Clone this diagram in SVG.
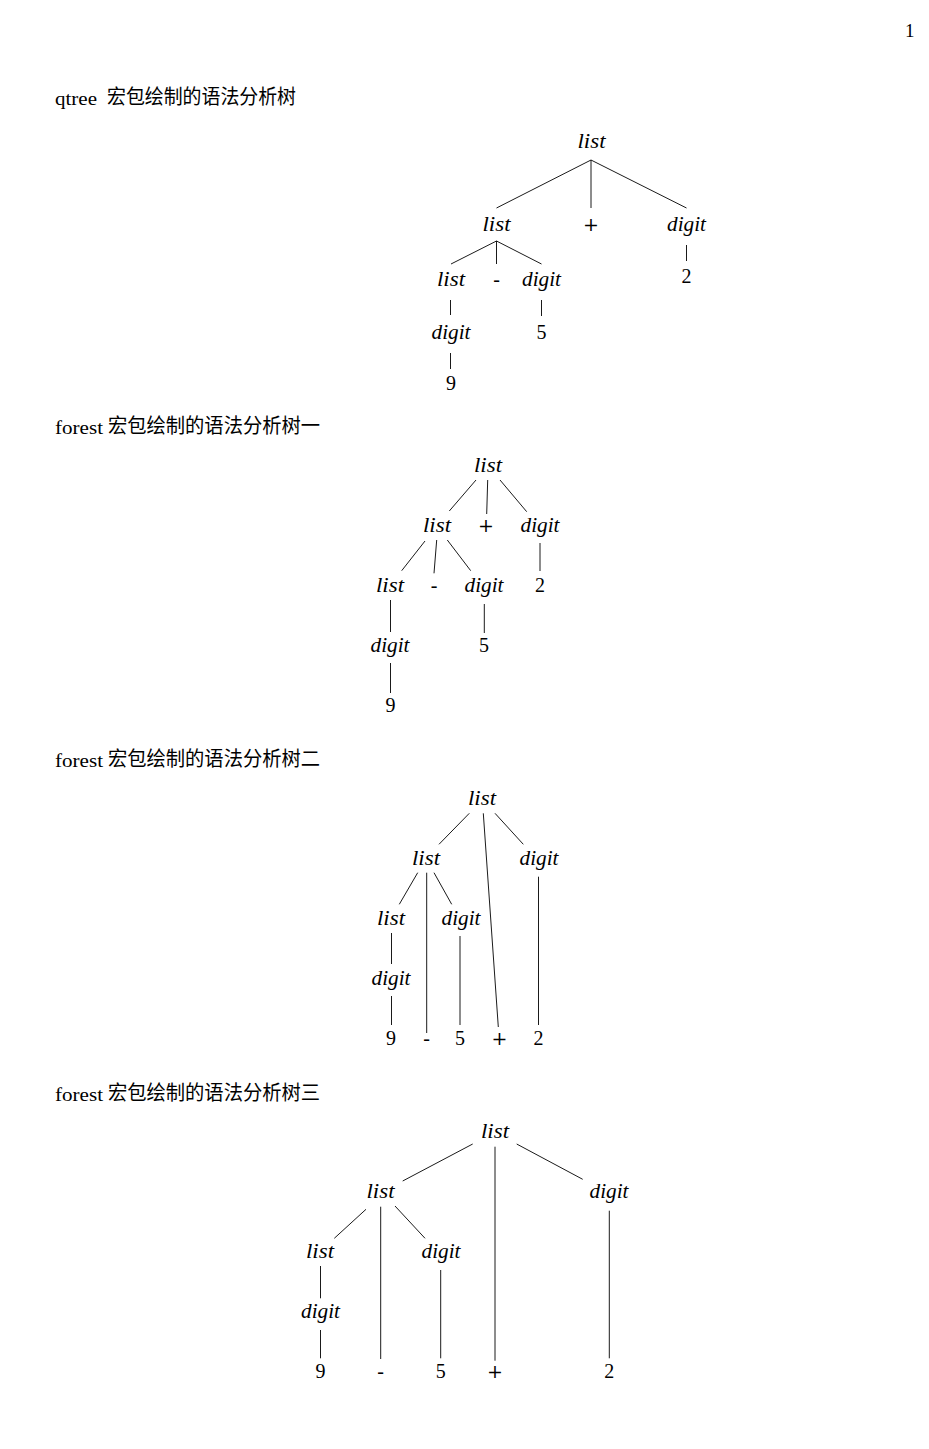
<svg xmlns="http://www.w3.org/2000/svg" width="929" height="1449" viewBox="0 0 929 1449">
<style>
.bg{fill:#fff}
.h{font-family:"Liberation Serif",serif;font-size:19px;fill:#000}
.c{font-family:"Noto Sans CJK SC",sans-serif;font-size:20px;fill:#000}
.m{font-family:"Liberation Serif",serif;font-style:italic;font-size:20px;fill:#000;text-anchor:middle}
.r{font-family:"Liberation Serif",serif;font-size:20px;fill:#000;text-anchor:middle}
.p{font-family:"DejaVu Serif",serif;font-size:19px;fill:#000;text-anchor:middle}
.e line{stroke:#000;stroke-width:0.9;fill:none}
</style>
<rect class="bg" x="0" y="0" width="929" height="1449"/>
<text class="h" x="905" y="37">1</text>

<g id="headings">
<text class="h" x="55" y="105" textLength="42" lengthAdjust="spacingAndGlyphs">qtree</text>
<text class="c" x="107" y="104" textLength="189" lengthAdjust="spacingAndGlyphs">宏包绘制的语法分析树</text>
<text class="h" x="55" y="434" textLength="48" lengthAdjust="spacingAndGlyphs">forest</text>
<text class="c" x="108" y="433" textLength="212" lengthAdjust="spacingAndGlyphs">宏包绘制的语法分析树一</text>
<text class="h" x="55" y="767" textLength="48" lengthAdjust="spacingAndGlyphs">forest</text>
<text class="c" x="108" y="766" textLength="212" lengthAdjust="spacingAndGlyphs">宏包绘制的语法分析树二</text>
<text class="h" x="55" y="1101" textLength="48" lengthAdjust="spacingAndGlyphs">forest</text>
<text class="c" x="108" y="1100" textLength="212" lengthAdjust="spacingAndGlyphs">宏包绘制的语法分析树三</text>
</g>

<!-- Tree 1 (qtree) -->
<g id="t1-connectors" class="e">
<line x1="591" y1="160" x2="496.5" y2="208"/>
<line x1="591" y1="160" x2="591" y2="208"/>
<line x1="591" y1="160" x2="686.5" y2="208"/>
<line x1="496.5" y1="241" x2="451" y2="264"/>
<line x1="496.5" y1="241" x2="496.5" y2="264"/>
<line x1="496.5" y1="241" x2="541.5" y2="264"/>
<line x1="686.5" y1="245" x2="686.5" y2="261"/>
<line x1="450.5" y1="300" x2="450.5" y2="315"/>
<line x1="541.5" y1="300" x2="541.5" y2="316"/>
<line x1="450.5" y1="353" x2="450.5" y2="369"/>
</g>
<g id="t1-n1"><text class="m" x="591.5" y="148" textLength="28" lengthAdjust="spacingAndGlyphs">list</text></g>
<g id="t1-n2"><text class="m" x="496.5" y="231" textLength="28" lengthAdjust="spacingAndGlyphs">list</text></g>
<g id="t1-n3"><text class="p" x="591" y="231">+</text></g>
<g id="t1-n4"><text class="m" x="686.5" y="231" textLength="39" lengthAdjust="spacingAndGlyphs">digit</text></g>
<g id="t1-n5"><text class="m" x="451" y="286" textLength="28" lengthAdjust="spacingAndGlyphs">list</text></g>
<g id="t1-n6"><text class="r" x="496.5" y="286">-</text></g>
<g id="t1-n7"><text class="m" x="541.5" y="286" textLength="39" lengthAdjust="spacingAndGlyphs">digit</text></g>
<g id="t1-n8"><text class="r" x="686.5" y="283">2</text></g>
<g id="t1-n9"><text class="m" x="451" y="339" textLength="39" lengthAdjust="spacingAndGlyphs">digit</text></g>
<g id="t1-n10"><text class="r" x="541.5" y="339">5</text></g>
<g id="t1-n11"><text class="r" x="451" y="390">9</text></g>

<!-- Tree 2 -->
<g id="t2-connectors" class="e">
<line x1="476" y1="480" x2="449.3" y2="511"/>
<line x1="487.7" y1="480" x2="486.7" y2="514"/>
<line x1="500" y1="480" x2="526.7" y2="511.7"/>
<line x1="425" y1="541" x2="401.7" y2="570.7"/>
<line x1="436.7" y1="540" x2="434" y2="573.3"/>
<line x1="447.3" y1="540" x2="470.7" y2="570.7"/>
<line x1="540" y1="543" x2="540" y2="571"/>
<line x1="390.5" y1="600" x2="390.5" y2="632"/>
<line x1="484.3" y1="604" x2="484.3" y2="633"/>
<line x1="390.5" y1="663" x2="390.5" y2="693"/>
</g>
<g id="t2-n1"><text class="m" x="488" y="472" textLength="28" lengthAdjust="spacingAndGlyphs">list</text></g>
<g id="t2-n2"><text class="m" x="437" y="532" textLength="28" lengthAdjust="spacingAndGlyphs">list</text></g>
<g id="t2-n3"><text class="p" x="486" y="532">+</text></g>
<g id="t2-n4"><text class="m" x="540" y="532" textLength="39" lengthAdjust="spacingAndGlyphs">digit</text></g>
<g id="t2-n5"><text class="m" x="390" y="592" textLength="28" lengthAdjust="spacingAndGlyphs">list</text></g>
<g id="t2-n6"><text class="r" x="434" y="592">-</text></g>
<g id="t2-n7"><text class="m" x="484" y="592" textLength="39" lengthAdjust="spacingAndGlyphs">digit</text></g>
<g id="t2-n8"><text class="r" x="540" y="592">2</text></g>
<g id="t2-n9"><text class="m" x="390" y="652" textLength="39" lengthAdjust="spacingAndGlyphs">digit</text></g>
<g id="t2-n10"><text class="r" x="484" y="652">5</text></g>
<g id="t2-n11"><text class="r" x="390.5" y="712">9</text></g>

<!-- Tree 3 -->
<g id="t3-connectors" class="e">
<line x1="469.3" y1="813.3" x2="439" y2="844.3"/>
<line x1="483.3" y1="813.3" x2="498.3" y2="1027"/>
<line x1="495" y1="813.3" x2="523.3" y2="844.3"/>
<line x1="417.7" y1="872.7" x2="399.3" y2="904.3"/>
<line x1="426.7" y1="872.7" x2="426.7" y2="1033"/>
<line x1="434" y1="872.7" x2="451.7" y2="904.3"/>
<line x1="538.5" y1="876.7" x2="538.5" y2="1025"/>
<line x1="391.5" y1="933" x2="391.5" y2="964"/>
<line x1="460" y1="936" x2="460" y2="1025"/>
<line x1="391.5" y1="996" x2="391.5" y2="1025"/>
</g>
<g id="t3-n1"><text class="m" x="482" y="805" textLength="28" lengthAdjust="spacingAndGlyphs">list</text></g>
<g id="t3-n2"><text class="m" x="426" y="865" textLength="28" lengthAdjust="spacingAndGlyphs">list</text></g>
<g id="t3-n3"><text class="m" x="539" y="865" textLength="39" lengthAdjust="spacingAndGlyphs">digit</text></g>
<g id="t3-n4"><text class="m" x="391" y="925" textLength="28" lengthAdjust="spacingAndGlyphs">list</text></g>
<g id="t3-n5"><text class="m" x="461" y="925" textLength="39" lengthAdjust="spacingAndGlyphs">digit</text></g>
<g id="t3-n6"><text class="m" x="391" y="985" textLength="39" lengthAdjust="spacingAndGlyphs">digit</text></g>
<g id="t3-n7"><text class="r" x="391" y="1045">9</text></g>
<g id="t3-n8"><text class="r" x="426.5" y="1045">-</text></g>
<g id="t3-n9"><text class="r" x="460" y="1045">5</text></g>
<g id="t3-n10"><text class="p" x="499.5" y="1045">+</text></g>
<g id="t3-n11"><text class="r" x="538.5" y="1045">2</text></g>

<!-- Tree 4 -->
<g id="t4-connectors" class="e">
<line x1="472.7" y1="1144" x2="402.7" y2="1181"/>
<line x1="495" y1="1146.7" x2="495" y2="1360.7"/>
<line x1="516.7" y1="1144" x2="582.7" y2="1179.3"/>
<line x1="366" y1="1209.3" x2="334.3" y2="1238.3"/>
<line x1="380.7" y1="1206.7" x2="380.7" y2="1359"/>
<line x1="395" y1="1206" x2="425" y2="1238.3"/>
<line x1="609.3" y1="1210.7" x2="609.3" y2="1358.3"/>
<line x1="320.5" y1="1266" x2="320.5" y2="1298.3"/>
<line x1="320.5" y1="1330" x2="320.5" y2="1358.3"/>
<line x1="440.7" y1="1270" x2="440.7" y2="1358.3"/>
</g>
<g id="t4-n1"><text class="m" x="495" y="1138" textLength="28" lengthAdjust="spacingAndGlyphs">list</text></g>
<g id="t4-n2"><text class="m" x="380.5" y="1198" textLength="28" lengthAdjust="spacingAndGlyphs">list</text></g>
<g id="t4-n3"><text class="m" x="609" y="1198" textLength="39" lengthAdjust="spacingAndGlyphs">digit</text></g>
<g id="t4-n4"><text class="m" x="320" y="1258" textLength="28" lengthAdjust="spacingAndGlyphs">list</text></g>
<g id="t4-n5"><text class="m" x="441" y="1258" textLength="39" lengthAdjust="spacingAndGlyphs">digit</text></g>
<g id="t4-n6"><text class="m" x="320.5" y="1318" textLength="39" lengthAdjust="spacingAndGlyphs">digit</text></g>
<g id="t4-n7"><text class="r" x="320.5" y="1378">9</text></g>
<g id="t4-n8"><text class="r" x="380.5" y="1378">-</text></g>
<g id="t4-n9"><text class="r" x="440.7" y="1378">5</text></g>
<g id="t4-n10"><text class="p" x="495" y="1378">+</text></g>
<g id="t4-n11"><text class="r" x="609.3" y="1378">2</text></g>
</svg>
